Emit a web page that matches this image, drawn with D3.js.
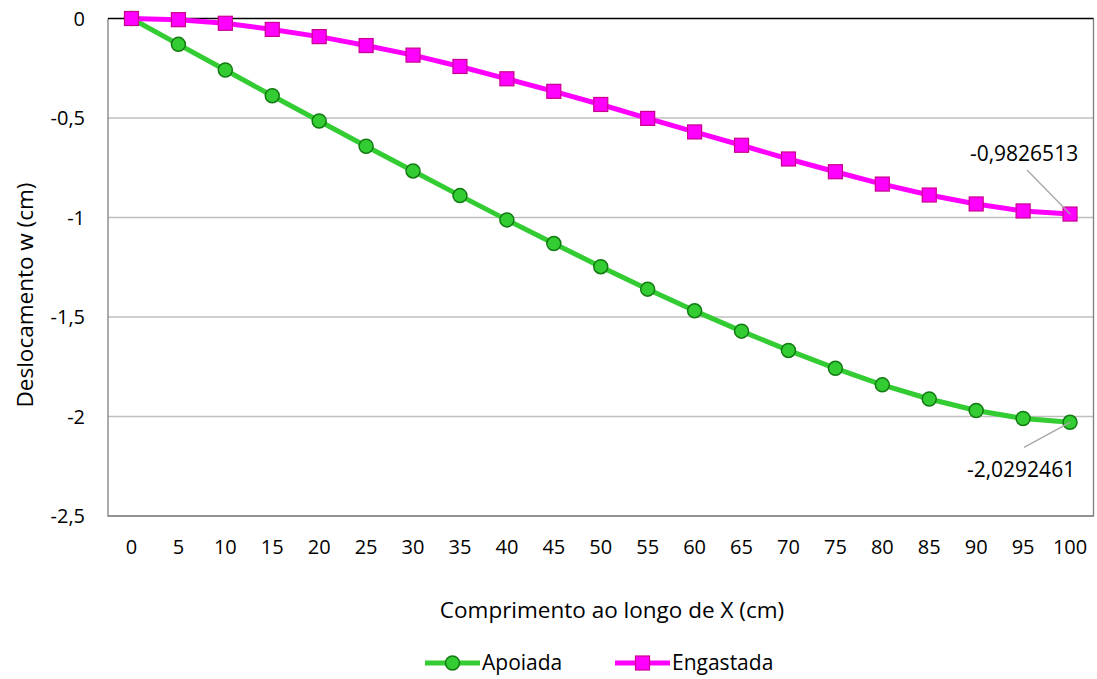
<!DOCTYPE html>
<html>
<head>
<meta charset="utf-8">
<script src="https://cdn.jsdelivr.net/npm/d3@7"></script>
<style>
  body { margin: 0; background: #fff; }
  svg { font-family: "Open Sans", sans-serif; }
</style>
</head>
<body>
<div id="chart"></div>
<script>
// Data
const positions = [0, 5, 10, 15, 20, 25, 30, 35, 40, 45, 50, 55, 60, 65, 70, 75, 80, 85, 90, 95, 100];
const apoiada = [0, -0.130, -0.259, -0.388, -0.515, -0.642, -0.766, -0.890, -1.012, -1.131, -1.247,
                 -1.360, -1.469, -1.571, -1.668, -1.758, -1.841, -1.912, -1.970, -2.010, -2.0292461];
const engastada = [0, -0.006, -0.024, -0.055, -0.091, -0.136, -0.184, -0.241, -0.303, -0.366, -0.432,
                   -0.502, -0.570, -0.637, -0.706, -0.770, -0.832, -0.887, -0.932, -0.967, -0.9826513];
const yTicks = [0, -0.5, -1, -1.5, -2, -2.5];

function init() {
    const w = 1097;
    const h = 679;
    const margin = { top: 18.5, right: 3.5, bottom: 163, left: 108 };

    const svg = d3.select("#chart")
        .append("svg")
        .attr("width", w)
        .attr("height", h);

    const x = d3.scalePoint()
        .domain(positions)
        .range([margin.left, w - margin.right])
        .padding(0.5);

    const y = d3.scaleLinear()
        .domain([-2.5, 0])
        .range([h - margin.bottom, margin.top]);

    const fmt = v => String(v).replace(".", ",");

    // Gridlines
    svg.append("g")
        .selectAll("line")
        .data(yTicks.filter(t => t !== 0))
        .enter()
        .append("line")
        .attr("x1", margin.left)
        .attr("x2", w - margin.right)
        .attr("y1", d => y(d))
        .attr("y2", d => y(d))
        .attr("stroke", "#bfbfbf")
        .attr("stroke-width", 1.3);

    // Plot border (left, right, bottom in gray)
    const plotRight = w - margin.right;
    svg.append("path")
        .attr("d", `M${margin.left},${y(0)}V${y(-2.5)}H${plotRight}V${y(0)}`)
        .attr("fill", "none")
        .attr("stroke", "#7f7f7f")
        .attr("stroke-width", 1.3);

    // Category axis at zero (black)
    svg.append("line")
        .attr("x1", margin.left)
        .attr("x2", plotRight)
        .attr("y1", y(0))
        .attr("y2", y(0))
        .attr("stroke", "#000")
        .attr("stroke-width", 1.5);

    // Y tick labels
    svg.append("g")
        .selectAll("text")
        .data(yTicks)
        .enter()
        .append("text")
        .attr("x", margin.left - 23)
        .attr("y", d => y(d))
        .attr("dy", "0.35em")
        .attr("text-anchor", "end")
        .attr("font-size", "20px")
        .attr("fill", "#000")
        .text(fmt);

    // X tick labels
    svg.append("g")
        .selectAll("text")
        .data(positions)
        .enter()
        .append("text")
        .attr("x", d => x(d))
        .attr("y", 554)
        .attr("text-anchor", "middle")
        .attr("font-size", "20px")
        .attr("fill", "#000")
        .text(d => d);

    // Axis titles
    svg.append("text")
        .attr("x", 612)
        .attr("y", 618)
        .attr("text-anchor", "middle")
        .attr("font-size", "22.5px")
        .text("Comprimento ao longo de X (cm)");

    svg.append("text")
        .attr("transform", "translate(33, 295) rotate(-90)")
        .attr("text-anchor", "middle")
        .attr("font-size", "22.5px")
        .text("Deslocamento w (cm)");

    const series = [
        { name: "Apoiada", values: apoiada, color: "#33cc33", stroke: "#127a12", shape: "circle" },
        { name: "Engastada", values: engastada, color: "#ff00ff", stroke: "#c8008c", shape: "square" }
    ];

    const line = d3.line()
        .x((d, i) => x(positions[i]))
        .y(d => y(d));

    function drawMarker(g, s, cx, cy) {
        if (s.shape === "circle") {
            g.append("circle")
                .attr("cx", cx).attr("cy", cy).attr("r", 7)
                .attr("fill", s.color).attr("stroke", s.stroke).attr("stroke-width", 1.5);
        } else {
            g.append("rect")
                .attr("x", cx - 7).attr("y", cy - 7)
                .attr("width", 14).attr("height", 14)
                .attr("fill", s.color).attr("stroke", s.stroke).attr("stroke-width", 1.2);
        }
    }

    series.forEach(s => {
        svg.append("path")
            .datum(s.values)
            .attr("d", line)
            .attr("fill", "none")
            .attr("stroke", s.color)
            .attr("stroke-width", 5)
            .attr("stroke-linejoin", "round");
    });

    series.forEach(s => {
        const g = svg.append("g");
        s.values.forEach((v, i) => drawMarker(g, s, x(positions[i]), y(v)));
    });

    // Data labels on last points with leader lines
    const last = positions.length - 1;
    const labels = [
        { s: series[1], dx: -46, dy: -53, lx: -43, ly: -44 },
        { s: series[0], dx: -49, dy: 55, lx: -46, ly: 25 }
    ];
    labels.forEach(l => {
        const px = x(positions[last]);
        const py = y(l.s.values[last]);
        svg.append("line")
            .attr("x1", px + l.lx).attr("y1", py + l.ly)
            .attr("x2", px).attr("y2", py)
            .attr("stroke", "#a6a6a6").attr("stroke-width", 1.3);
        svg.append("text")
            .attr("x", px + l.dx)
            .attr("y", py + l.dy)
            .attr("text-anchor", "middle")
            .attr("font-size", "21px")
            .text(fmt(l.s.values[last]));
    });

    // Legend
    const legend = svg.append("g");
    const legendItems = [
        { s: series[0], x0: 425 },
        { s: series[1], x0: 615 }
    ];
    legendItems.forEach(it => {
        const ly = 663;
        legend.append("line")
            .attr("x1", it.x0).attr("x2", it.x0 + 55)
            .attr("y1", ly).attr("y2", ly)
            .attr("stroke", it.s.color).attr("stroke-width", 5);
        drawMarker(legend, it.s, it.x0 + 27.5, ly);
        legend.append("text")
            .attr("x", it.x0 + 57)
            .attr("y", ly)
            .attr("dy", "0.35em")
            .attr("font-size", "21px")
            .text(it.s.name);
    });
}

window.onload = init;
</script>
</body>
</html>
